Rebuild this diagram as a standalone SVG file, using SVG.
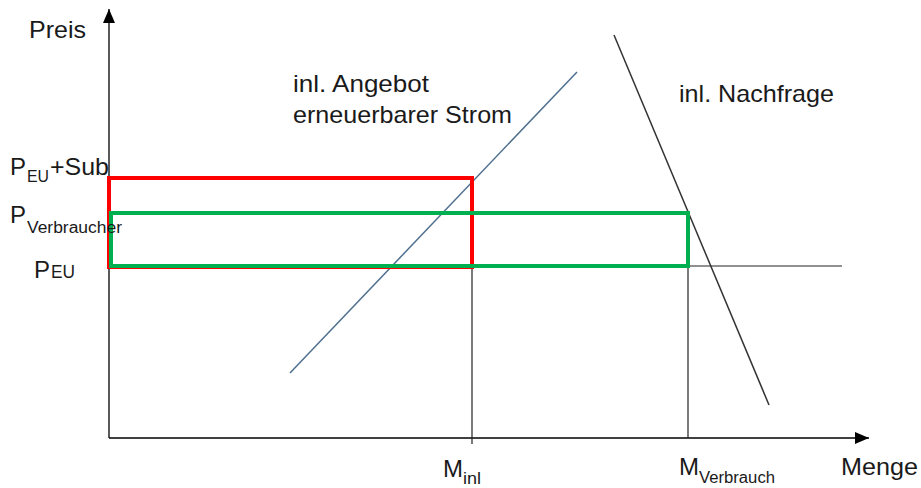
<svg xmlns="http://www.w3.org/2000/svg" width="921" height="488" viewBox="0 0 921 488">
<style>
text{font-family:"Liberation Sans",Arial,sans-serif;fill:#1a1a1a}
.t{font-size:24px}
.s{font-size:16px}
.ax{stroke:#000;stroke-width:1.3;fill:none}
.thin{stroke:#222;stroke-width:1.2;fill:none}
</style>
<defs>
<marker id="arr" markerWidth="14" markerHeight="12" refX="14" refY="6" orient="auto" markerUnits="userSpaceOnUse" viewBox="0 0 14 12">
<path d="M0,0 L14,6 L0,12 Z" fill="#000"/>
</marker>
</defs>
<g id="connectors">
<line class="ax" x1="109" y1="438" x2="109" y2="9" marker-end="url(#arr)"/>
<line class="ax" x1="109" y1="438" x2="869" y2="438" marker-end="url(#arr)"/>
<line class="thin" x1="472" y1="267" x2="472" y2="444"/>
<line class="thin" x1="688" y1="266" x2="688" y2="438"/>
<line class="thin" x1="688" y1="266" x2="842" y2="266"/>
<line x1="290" y1="373" x2="577" y2="72" stroke="#4f6f8f" stroke-width="1.5"/>
<line x1="614" y1="35" x2="769" y2="405" stroke="#333" stroke-width="1.5"/>
</g>
<g id="red-rect"><rect x="109" y="178" width="363" height="89" fill="none" stroke="#ff0000" stroke-width="4"/></g>
<g id="green-rect"><rect x="111" y="213" width="577" height="53" fill="none" stroke="#00b050" stroke-width="4"/></g>
<g id="labels">
<text class="t" x="29" y="38" textLength="57" lengthAdjust="spacingAndGlyphs">Preis</text>
<text class="t" x="293" y="92" textLength="136" lengthAdjust="spacingAndGlyphs">inl. Angebot</text>
<text class="t" x="293" y="123" textLength="219" lengthAdjust="spacingAndGlyphs">erneuerbarer Strom</text>
<text class="t" x="679" y="102" textLength="155" lengthAdjust="spacingAndGlyphs">inl. Nachfrage</text>
<text x="10" y="175"><tspan class="t" font-size="25">P</tspan><tspan class="s" x="27" y="182" textLength="22" lengthAdjust="spacingAndGlyphs">EU</tspan><tspan class="t" x="50" y="175" textLength="59" lengthAdjust="spacingAndGlyphs">+Sub</tspan></text>
<text x="10" y="223"><tspan class="t" font-size="25">P</tspan><tspan class="s" x="27" y="233" textLength="95" lengthAdjust="spacingAndGlyphs">Verbraucher</tspan></text>
<text x="34" y="278"><tspan class="t" font-size="27">P</tspan><tspan x="51" font-size="18" textLength="24" lengthAdjust="spacingAndGlyphs">EU</tspan></text>
<text x="443" y="477"><tspan class="t" font-size="21">M</tspan><tspan class="s" x="463" y="484" textLength="18" lengthAdjust="spacingAndGlyphs">inl</tspan></text>
<text x="679" y="475"><tspan class="t">M</tspan><tspan class="s" x="699" y="483" textLength="76" lengthAdjust="spacingAndGlyphs">Verbrauch</tspan></text>
<text class="t" x="841" y="475" textLength="77" lengthAdjust="spacingAndGlyphs">Menge</text>
</g>
</svg>
